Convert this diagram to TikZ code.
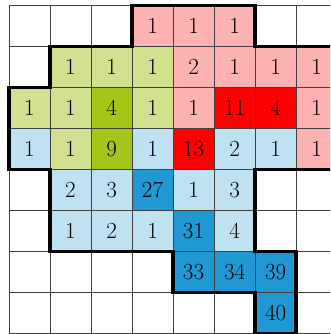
\documentclass[tikz,border=0pt]{standalone}
\usetikzlibrary{positioning}
\definecolor{cellpink}{RGB}{255,178,178}
\definecolor{cellred}{RGB}{255,0,0}
\definecolor{celllime}{RGB}{210,225,143}
\definecolor{cellgreen}{RGB}{163,198,25}
\definecolor{cellsky}{RGB}{190,226,242}
\definecolor{cellblue}{RGB}{32,152,212}

\begin{document}
\begin{tikzpicture}[
    x=1cm, y=1cm,
    cell/.style={rectangle, draw=none, minimum size=1cm, inner sep=0pt,
        font=\fontsize{16}{16}\selectfont},
    gridline/.style={draw=black!75, line width=0.5pt},
    region/.style={draw=black, line width=2.4pt, line join=miter},
]
\useasboundingbox (-0.22,0.134) rectangle (7.83,-8.01);
\clip (-0.22,0.134) rectangle (7.83,-8.01);

% ===== cells: col/row/value/colour =====
\foreach \c/\r/\v/\f in {
    3/0/1/cellpink, 4/0/1/cellpink, 5/0/1/cellpink,
    1/1/1/celllime, 2/1/1/celllime, 3/1/1/celllime,
    4/1/2/cellpink, 5/1/1/cellpink, 6/1/1/cellpink, 7/1/1/cellpink,
    0/2/1/celllime, 1/2/1/celllime, 2/2/4/cellgreen, 3/2/1/celllime,
    4/2/1/cellpink, 5/2/11/cellred, 6/2/4/cellred, 7/2/1/cellpink,
    0/3/1/cellsky, 1/3/1/celllime, 2/3/9/cellgreen, 3/3/1/cellsky,
    4/3/13/cellred, 5/3/2/cellsky, 6/3/1/cellsky, 7/3/1/cellpink,
    1/4/2/cellsky, 2/4/3/cellsky, 3/4/27/cellblue, 4/4/1/cellsky, 5/4/3/cellsky,
    1/5/1/cellsky, 2/5/2/cellsky, 3/5/1/cellsky, 4/5/31/cellblue, 5/5/4/cellsky,
    4/6/33/cellblue, 5/6/34/cellblue, 6/6/39/cellblue,
    6/7/40/cellblue}
    \node[cell, fill=\f] (c-\c-\r) at (\c+0.5,-\r-0.5) {\v};

% ===== grid =====
\draw[gridline] (0,0) grid (8,-8);

% ===== outline of the filled region =====
\draw[region] (3,0) -- (6,0) -- (6,-1) -- (8,-1) -- (8,-4) -- (6,-4)
    -- (6,-6) -- (7,-6) -- (7,-8) -- (6,-8) -- (6,-7) -- (4,-7)
    -- (4,-6) -- (1,-6) -- (1,-4) -- (0,-4) -- (0,-2) -- (1,-2)
    -- (1,-1) -- (3,-1) -- cycle;

\end{tikzpicture}
\end{document}
